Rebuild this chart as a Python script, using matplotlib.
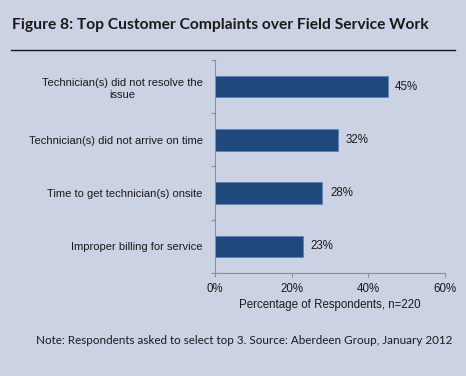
import matplotlib
matplotlib.use("Agg")
import matplotlib.pyplot as plt
from matplotlib.lines import Line2D

# datos del gráfico
categorias = ['Technician(s) did not resolve the\nissue',
              'Technician(s) did not arrive on time',
              'Time to get technician(s) onsite',
              'Improper billing for service']
valores = [45, 32, 28, 23]
ticks_x = [0, 20, 40, 60]

fondo = '#CBD2E3'
azul = '#1F497D'
gris = '#8A8F99'

fig = plt.figure(figsize=(4.66, 3.76), dpi=100, facecolor=fondo)
ax = fig.add_axes([0.4614, 0.274, 0.955 - 0.4614, 0.8404 - 0.274])
ax.set_facecolor(fondo)

pos = list(range(len(categorias)))
ax.barh(pos, valores, height=0.4, color=azul, edgecolor='#5B7FB5', linewidth=0.6)
for p, v in zip(pos, valores):
    ax.text(v + 2.0, p, f'{v}%', va='center', ha='left', fontsize=8.3,
            family='Liberation Sans', color='#1a1a1a')

ax.set_ylim(len(categorias) - 0.5, -0.5)
ax.set_xlim(0, 60)
ax.set_yticks(pos)
ax.set_yticklabels(categorias, family='Liberation Sans', fontsize=8,
                   color='#1a1a1a', linespacing=1.25, multialignment='center')
ax.tick_params(axis='y', length=0, pad=9)
# marcas menores entre categorías
ax.set_yticks([-0.5, 0.5, 1.5, 2.5, 3.5], minor=True)
ax.tick_params(axis='y', which='minor', length=3, color=gris, width=0.8)

ax.set_xticks(ticks_x)
ax.set_xticklabels([f'{t}%' for t in ticks_x], family='Liberation Sans', fontsize=8.3,
                   color='#1a1a1a')
ax.tick_params(axis='x', length=3, color=gris, width=0.8, pad=4)
ax.set_xlabel('Percentage of Respondents, n=220', family='Liberation Sans',
              fontsize=8.3, color='#1a1a1a', labelpad=3)

for s in ['top', 'right']:
    ax.spines[s].set_visible(False)
for s in ['left', 'bottom']:
    ax.spines[s].set_color(gris)
    ax.spines[s].set_linewidth(0.8)

# título y nota
fig.text(12 / 466, 1 - 25 / 376, 'Figure 8: Top Customer Complaints over Field Service Work',
         family='Lato', fontweight='bold', fontsize=11.25, color='#1a1a1a', va='center')
fig.add_artist(Line2D([11 / 466, 455 / 466], [1 - 50 / 376, 1 - 50 / 376],
                      color='#1a1a1a', linewidth=1.0))
fig.text(452 / 466, 1 - 340 / 376,
         'Note: Respondents asked to select top 3. Source: Aberdeen Group, January 2012',
         family='Lato', fontsize=8.4, color='#1a1a1a', ha='right', va='center')

fig.savefig('out.png', dpi=100, facecolor=fondo)
